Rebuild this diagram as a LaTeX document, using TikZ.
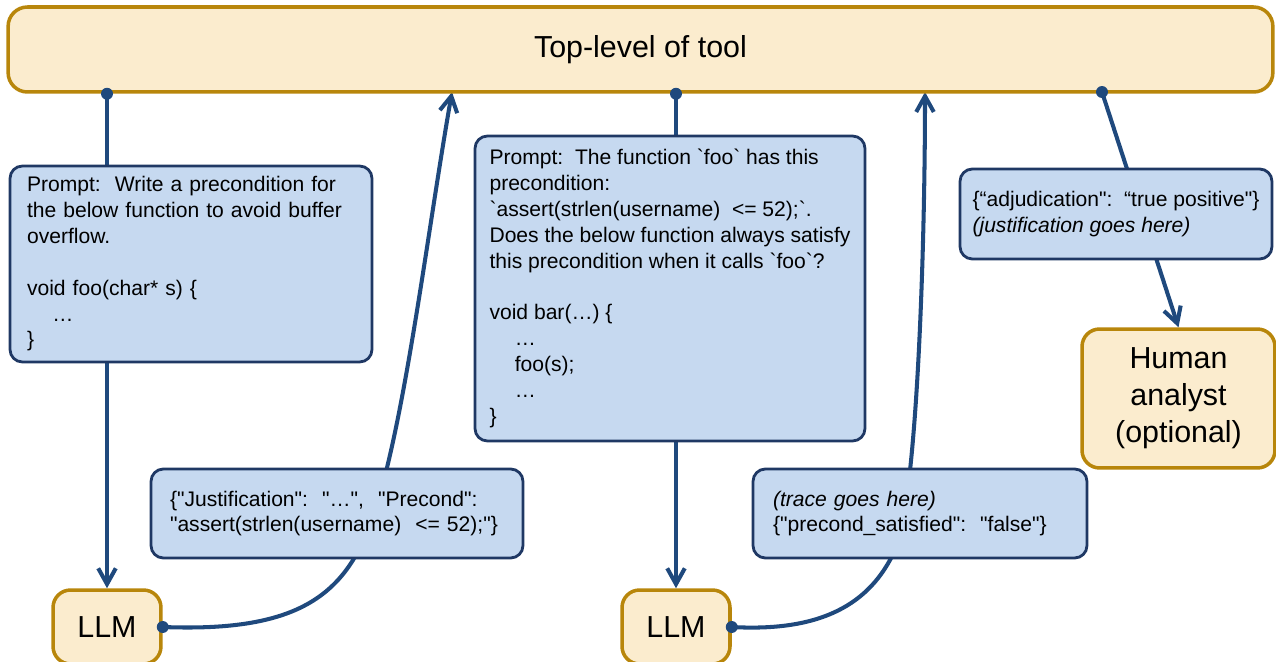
\documentclass[tikz,border=0pt]{standalone}
\usepackage{fontspec}
\setmainfont{Liberation Sans}[Ligatures=TeXOff]
\usepackage{xcolor}
\usepackage{tikz}
\usetikzlibrary{arrows.meta, positioning, backgrounds}

\definecolor{toolfill}{RGB}{251,236,206}
\definecolor{tooledge}{RGB}{184,134,11}
\definecolor{msgfill}{RGB}{198,217,240}
\definecolor{msgedge}{RGB}{31,56,100}
\definecolor{linkblue}{RGB}{31,73,125}

\tikzstyle{actor} = [rectangle, draw=tooledge, fill=toolfill, line width=2pt, rounded corners=10pt, align=center, font=\fontsize{17.3}{21}\selectfont]
\tikzstyle{msg} = [rectangle, draw=msgedge, fill=msgfill, line width=1.6pt, rounded corners=7pt, align=left, font=\fontsize{12}{14.7}\selectfont\frenchspacing]
\tikzstyle{link} = [draw=linkblue, line width=2.3pt]
\tikzstyle{arrow} = [link, -{Straight Barb[length=9pt, width=10pt]}]
\tikzstyle{tap} = [fill=linkblue]

\begin{document}
\begin{tikzpicture}[x=0.02cm, y=-0.02cm]
    \useasboundingbox (0,0) rectangle (1276,662);

    \node (tool) [actor, minimum width=25.3cm, minimum height=1.7cm, rounded corners=11pt] at (640.5,49.5) {Top-level of tool};
    \node (llmA) [actor, minimum width=2.16cm, minimum height=1.48cm] at (107,627) {LLM};
    \node (llmB) [actor, minimum width=2.16cm, minimum height=1.48cm] at (676,627) {LLM};
    \node (human) [actor, minimum width=3.86cm, minimum height=2.78cm] at (1178.5,398.5) {Human\\analyst\\(optional)};

    % prompts sent down to the models
    \node (askA) [msg, text width=6.56cm, inner xsep=0.34cm, minimum height=3.92cm] at (191,264)
        {Prompt:~ Write a precondition for\\the below function to avoid buffer\\overflow.\\[14.7pt]
         void foo(char* s) \{\\\hspace*{1.2em}…\\\}};
    \node (askB) [msg, minimum width=7.8cm, minimum height=6.1cm] at (670,288.5)
        {Prompt:~ The function `foo` has this\\precondition:\\
         `assert(strlen(username)~ <= 52);`.\\
         Does the below function always satisfy\\this precondition when it calls `foo`?\\[14.7pt]
         void bar(…) \{\\\hspace*{1.2em}…\\\hspace*{1.2em}foo(s);\\\hspace*{1.2em}…\\\}};

    % answers coming back up
    \node (replyA) [msg, text width=6.68cm, inner xsep=0.38cm, minimum height=1.78cm] at (337,513.5)
        {\{"Justification":~ "…",~ "Precond":\\"assert(strlen(username)~ <= 52);"\}};
    \node (replyB) [msg, text width=5.88cm, inner xsep=0.4cm, minimum height=1.78cm] at (920,513.5)
        {\textit{(trace goes here)}\\\{"precond\_satisfied":~ "false"\}};
    \node (verdict) [msg, minimum width=6.24cm, minimum height=1.8cm] at (1116,214)
        {\{“adjudication":~ “true positive"\}\\\textit{(justification goes here)}};

    \coordinate (tapA) at (tool.south -| llmA.north);
    \coordinate (tapB) at (tool.south -| llmB.north);
    \coordinate (tapC) at (1102,92);
    \coordinate (backA) at (452,92);
    \coordinate (backB) at (925,92);

    \begin{pgfonlayer}{background}
        \draw[arrow] (tapA) -- (llmA.north);
        \draw[arrow] (tapB) -- (llmB.north);
        \draw[arrow] (tapC) -- (human.north);
        \draw[arrow] (llmA.east) .. controls (290,632) and (340,600) .. (368,530)
            .. controls (402,446) and (426,240) .. (backA);
        \draw[arrow] (llmB.east) .. controls (820,632) and (870,605) .. (895,550)
            .. controls (917,500) and (925,250) .. (backB);
    \end{pgfonlayer}

    \foreach \p in {tapA, tapB, tapC, llmA.east, llmB.east}
        \fill[tap] (\p) circle (3.4pt);
\end{tikzpicture}
\end{document}
